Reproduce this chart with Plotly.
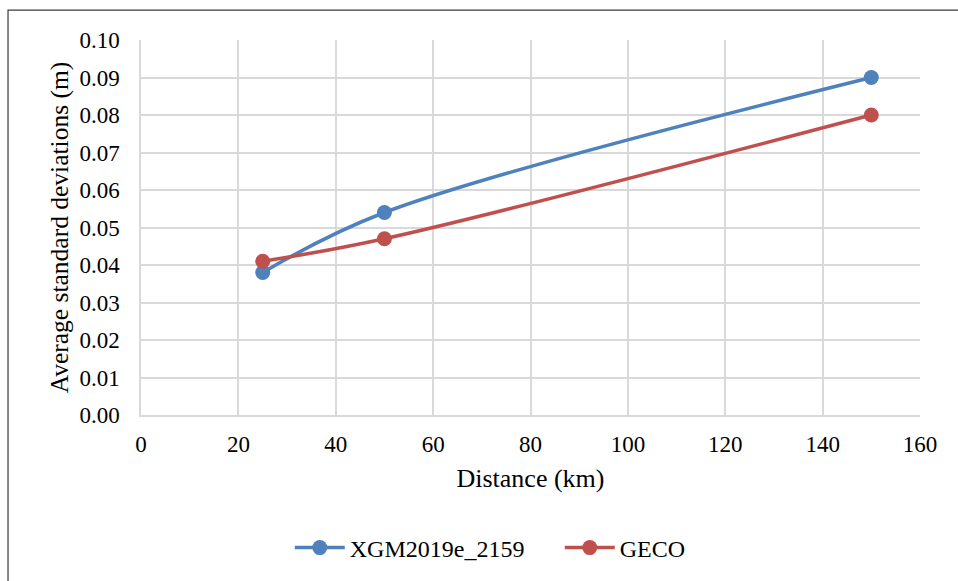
import plotly.graph_objects as go

# Distance (km) against average standard deviation (m)
distance_km = [25, 50, 150]
xgm2019e_2159 = [0.038, 0.054, 0.090]
geco = [0.041, 0.047, 0.080]

x_ticks = [0, 20, 40, 60, 80, 100, 120, 140, 160]
y_ticks = [0.00, 0.01, 0.02, 0.03, 0.04, 0.05, 0.06, 0.07, 0.08, 0.09, 0.10]

FONT = "Liberation Serif, Times New Roman, serif"
GRID = "#D9D9D9"

fig = go.Figure()
fig.add_trace(go.Scatter(
    x=distance_km, y=xgm2019e_2159, name="XGM2019e_2159",
    mode="lines+markers",
    line=dict(color="#4F81BD", width=3.5, shape="spline", smoothing=1.0),
    marker=dict(color="#4F81BD", size=15),
))
fig.add_trace(go.Scatter(
    x=distance_km, y=geco, name="GECO",
    mode="lines+markers",
    line=dict(color="#C0504D", width=3.5, shape="spline", smoothing=1.0),
    marker=dict(color="#C0504D", size=15),
))

fig.update_layout(
    width=958, height=581,
    margin=dict(l=141, r=38, t=40, b=165),
    paper_bgcolor="white", plot_bgcolor="white",
    font=dict(family=FONT, size=23, color="#000000"),
    showlegend=True,
    legend=dict(
        orientation="h", x=0.191, xanchor="left", y=-0.351, yanchor="middle",
        font=dict(family=FONT, size=24), itemwidth=50, entrywidth=205,
        bgcolor="rgba(0,0,0,0)", traceorder="normal",
    ),
    shapes=[dict(
        type="rect", xref="paper", yref="paper",
        x0=-0.1707, x1=1.06, y0=-0.47, y1=1.0798,
        line=dict(color="#3a3a3a", width=1.2), fillcolor="rgba(0,0,0,0)",
        layer="below",
    )],
)

fig.update_xaxes(
    range=[0, 160], tickmode="array", tickvals=x_ticks,
    ticktext=[str(v) for v in x_ticks],
    showgrid=True, gridcolor=GRID, gridwidth=1.5,
    showline=True, linecolor=GRID, linewidth=1.5, mirror=False,
    zeroline=False, ticks="", ticklabelstandoff=8,
    title=dict(text="Distance (km)", font=dict(family=FONT, size=26), standoff=12),
)
fig.update_yaxes(
    range=[0, 0.10], tickmode="array", tickvals=y_ticks,
    ticktext=[f"{v:.2f}" for v in y_ticks],
    showgrid=True, gridcolor=GRID, gridwidth=1.5,
    showline=True, linecolor=GRID, linewidth=1.5,
    zeroline=False, ticks="", ticklabelstandoff=15,
    title=dict(text="Average standard deviations (m)", font=dict(family=FONT, size=25.5), standoff=3),
)

fig.write_html("out.html")
